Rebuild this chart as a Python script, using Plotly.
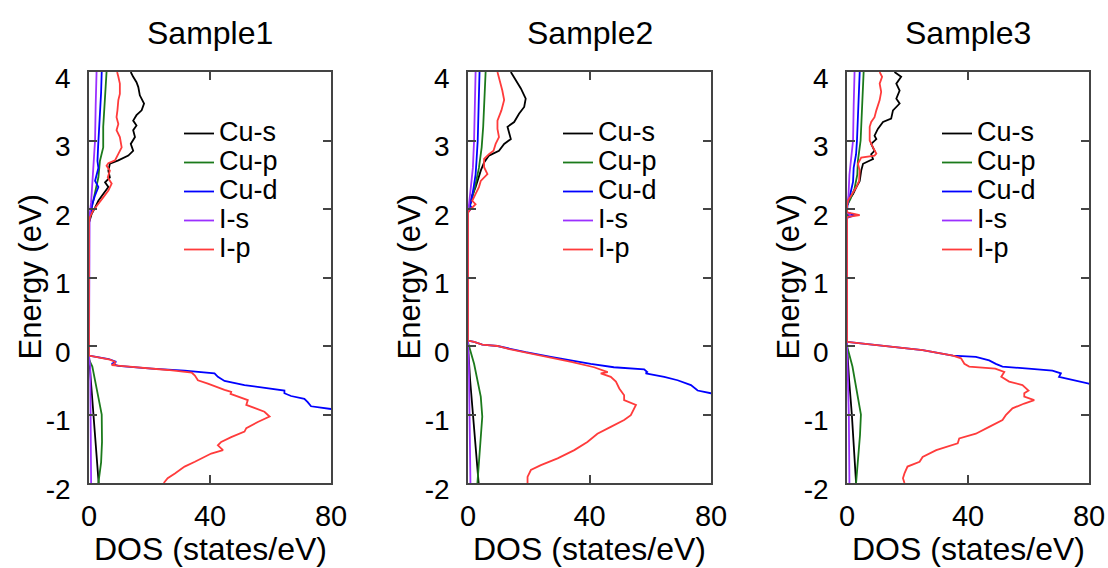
import plotly.graph_objects as go

# ---------------- data: (energy eV, DOS states/eV) ----------------
series_names = ["Cu-s", "Cu-p", "Cu-d", "I-s", "I-p"]
panel_titles = ["Sample1", "Sample2", "Sample3"]
x_ticks = [0, 40, 80]
y_ticks = [-2, -1, 0, 1, 2, 3, 4]
y_tick_labels = ["-2", "-1", "0", "1", "2", "3", "4"]

# Sample1
s1_cus = [(-2.0, 3.2), (-1.5, 2.3), (-1.0, 1.5), (-0.6, 0.8), (-0.3, 0.3), (-0.15, 0), (1.8, 0),
          (1.93, 0.9), (2.02, 2.0), (2.12, 3.1), (2.22, 4.7), (2.32, 6.4), (2.39, 5.3), (2.46, 6.9),
          (2.56, 6.4), (2.66, 6.9), (2.71, 9.7), (2.78, 13.0), (2.85, 14.6), (2.95, 13.8), (3.05, 15.2),
          (3.15, 14.6), (3.22, 15.7), (3.29, 14.6), (3.37, 15.7), (3.44, 17.4), (3.54, 18.2), (3.66, 16.8),
          (3.78, 16.3), (3.85, 15.7), (3.93, 14.6), (4.0, 13.8)]
s1_cup = [(-2.0, 3.1), (-1.7, 4.0), (-1.4, 4.3), (-1.0, 4.2), (-0.75, 3.1), (-0.5, 2.0), (-0.3, 1.1),
          (-0.2, 0), (1.85, 0), (2.02, 0.9), (2.22, 2.0), (2.46, 3.1), (2.7, 3.6), (2.9, 4.7), (3.2, 4.7),
          (3.49, 5.0), (3.78, 5.5), (4.0, 5.8)]
s1_cud = [(-2.0, 100), (-1.0, 88), (-0.92, 80), (-0.88, 73.4), (-0.82, 72.3), (-0.77, 71.2), (-0.73, 66.8),
          (-0.69, 64.6), (-0.65, 64.6), (-0.62, 60), (-0.57, 51.4), (-0.51, 44.8), (-0.45, 42.6),
          (-0.40, 41.5), (-0.36, 31.6), (-0.33, 20.7), (-0.29, 9.7), (-0.26, 7.5), (-0.23, 9.0),
          (-0.19, 6.5), (-0.14, 0), (1.8, 0), (1.9, 0.3), (2.07, 1.1), (2.2, 2.0), (2.32, 3.1), (2.41, 2.0),
          (2.6, 3.1), (2.7, 2.8), (2.9, 3.0), (3.1, 3.3), (3.4, 3.6), (3.7, 4.0), (4.0, 4.2)]
s1_is = [(-2.0, 0.7), (-1.0, 0.6), (-0.3, 0.4), (-0.15, 0), (1.8, 0), (1.9, 0.2), (2.1, 0.7), (2.4, 1.2),
         (2.7, 1.5), (3.0, 2.0), (3.5, 2.2), (4.0, 2.5)]
s1_ip = [(-2.0, 24.7), (-1.93, 26), (-1.86, 28.4), (-1.76, 31.6), (-1.69, 35), (-1.57, 40.4), (-1.52, 44.3),
         (-1.45, 42.6), (-1.40, 43.7), (-1.33, 47), (-1.25, 51.4), (-1.20, 52), (-1.11, 55.8), (-1.03, 59.7),
         (-0.96, 58), (-0.90, 54.7), (-0.86, 52), (-0.79, 52.5), (-0.74, 49), (-0.70, 46.8), (-0.67, 47),
         (-0.64, 44.8), (-0.55, 39.3), (-0.50, 36), (-0.43, 35), (-0.39, 34), (-0.35, 26), (-0.31, 15),
         (-0.28, 7.5), (-0.25, 8.6), (-0.23, 8.6), (-0.20, 6.9), (-0.16, 3), (-0.14, 0), (1.8, 0),
         (1.88, 0.3), (1.98, 1.4), (2.07, 3.1), (2.17, 4.7), (2.27, 6.4), (2.37, 7.5), (2.46, 6.2),
         (2.56, 6.9), (2.63, 5.8), (2.67, 6.4), (2.71, 8.6), (2.80, 9.7), (2.90, 10.8), (3.05, 10.2),
         (3.15, 9.1), (3.24, 9.7), (3.34, 9.1), (3.44, 9.4), (3.59, 9.7), (3.68, 10.2), (3.83, 10.2),
         (3.93, 9.7), (4.0, 9.3)]

# Sample2
s2_cus = [(-2.0, 3.5), (-1.5, 2.5), (-1.0, 1.6), (-0.5, 0.7), (0.0, 0), (1.95, 0), (2.05, 0.5), (2.2, 1.4),
          (2.32, 2.5), (2.41, 3.1), (2.56, 4.2), (2.68, 5.3), (2.78, 6.9), (2.85, 10.2), (2.95, 11.9),
          (3.02, 14.1), (3.1, 13.5), (3.2, 13.0), (3.27, 15.2), (3.39, 16.8), (3.49, 18.5), (3.61, 19.0),
          (3.76, 17.4), (3.88, 15.7), (4.0, 14.1)]
s2_cup = [(-2.0, 3.1), (-1.47, 4.0), (-1.03, 4.7), (-0.74, 4.2), (-0.26, 2.0), (0.05, 0), (1.95, 0),
          (2.1, 1.0), (2.3, 2.2), (2.6, 3.6), (2.9, 4.5), (3.2, 5.0), (3.6, 5.3), (4.0, 5.8)]
s2_cud = [(-2.0, 100), (-1.0, 90), (-0.69, 80), (-0.65, 75.6), (-0.57, 73.4), (-0.50, 69), (-0.45, 64.6),
          (-0.40, 58.5), (-0.38, 59), (-0.34, 58), (-0.31, 48), (-0.26, 40.4), (-0.16, 27.3), (-0.09, 19),
          (0.0, 9.7), (0.02, 4.7), (0.06, 2), (0.08, 0), (1.95, 0), (2.02, 1.2), (2.06, 0.6), (2.1, 1.0),
          (2.3, 1.8), (2.5, 2.5), (2.7, 2.8), (3.0, 3.2), (3.5, 3.5), (4.0, 3.8)]
s2_is = [(-2.0, 0.8), (-1.0, 0.6), (-0.3, 0.3), (0.05, 0), (1.95, 0), (2.05, 0.3), (2.3, 1.0), (2.6, 1.6),
         (3.0, 2.0), (3.5, 2.3), (4.0, 2.5)]
s2_ip = [(-2.0, 19.6), (-1.91, 19.6), (-1.81, 20.7), (-1.74, 24), (-1.64, 29.5), (-1.52, 35), (-1.40, 39.3),
         (-1.28, 42.6), (-1.18, 47), (-1.08, 51.4), (-1.01, 53.6), (-0.91, 54.7), (-0.86, 55.3),
         (-0.79, 51.4), (-0.72, 51.4), (-0.62, 49.8), (-0.52, 48.7), (-0.45, 47), (-0.40, 43.7),
         (-0.38, 46), (-0.31, 41.5), (-0.23, 34), (-0.16, 26), (-0.09, 18.5), (-0.04, 13), (0.0, 9.7),
         (0.02, 4.7), (0.06, 2), (0.08, 0), (1.95, 0), (2.0, 0.9), (2.07, 2.5), (2.12, 1.4), (2.22, 2.5),
         (2.32, 3.6), (2.41, 4.2), (2.51, 6.4), (2.61, 5.3), (2.73, 5.3), (2.80, 6.9), (2.85, 8.4),
         (2.95, 9.1), (3.05, 10.2), (3.17, 9.7), (3.29, 9.7), (3.44, 11), (3.59, 11.9), (3.73, 11.3),
         (3.88, 10.5), (4.0, 9.7)]

# Sample3
s3_cus = [(-2.0, 3.0), (-1.5, 2.4), (-1.0, 1.6), (-0.5, 0.7), (0.0, 0), (1.87, 0), (1.91, 0.6), (1.95, 0),
          (2.05, 0), (2.15, 0.9), (2.22, 2.0), (2.32, 3.1), (2.41, 4.2), (2.56, 4.7), (2.66, 5.3),
          (2.73, 8.6), (2.80, 8.0), (2.85, 9.1), (2.95, 8.0), (3.02, 9.7), (3.07, 9.1), (3.17, 10.2),
          (3.27, 11.9), (3.32, 14.6), (3.44, 15.2), (3.54, 17.4), (3.61, 16.3), (3.73, 17.4), (3.83, 16.3),
          (3.93, 17.9), (4.0, 15.7)]
s3_cup = [(-2.0, 3.0), (-1.6, 3.8), (-1.3, 4.3), (-1.0, 4.6), (-0.7, 3.5), (-0.3, 1.8), (0.0, 0), (2.05, 0),
          (2.15, 1.2), (2.3, 2.5), (2.5, 3.4), (2.7, 3.6), (3.0, 4.5), (3.5, 5.0), (4.0, 5.5)]
s3_cud = [(-2.0, 100), (-1.0, 90), (-0.55, 80), (-0.50, 74.5), (-0.45, 70.1), (-0.40, 70.7), (-0.36, 67.9),
          (-0.33, 60), (-0.30, 51.4), (-0.26, 49.2), (-0.21, 47), (-0.16, 42.6), (-0.14, 35), (-0.06, 25),
          (-0.01, 15), (0.03, 5.3), (0.06, 0), (1.87, 0), (1.91, 2.5), (1.95, 0), (2.08, 0.2), (2.2, 1.0),
          (2.4, 2.0), (2.6, 2.2), (2.8, 3.0), (3.0, 3.3), (3.5, 3.8), (4.0, 4.2)]
s3_is = [(-2.0, 0.8), (-1.0, 0.6), (0.0, 0), (1.87, 0), (1.91, 1.0), (1.95, 0), (2.05, 0), (2.2, 0.5),
         (2.5, 0.8), (2.7, 1.3), (3.0, 2.0), (3.5, 2.2), (4.0, 2.5)]
s3_ip = [(-2.0, 19), (-1.93, 18.5), (-1.86, 19), (-1.76, 20), (-1.69, 24), (-1.62, 25), (-1.52, 29.5),
         (-1.42, 36.6), (-1.35, 37.1), (-1.28, 42.6), (-1.18, 47), (-1.08, 51.4), (-1.01, 52.5),
         (-0.96, 53.6), (-0.91, 54.7), (-0.84, 58.6), (-0.79, 61.9), (-0.74, 58.6), (-0.69, 58.6),
         (-0.65, 60), (-0.57, 58), (-0.52, 53.6), (-0.45, 51), (-0.38, 52), (-0.33, 49), (-0.30, 40.4),
         (-0.26, 38.8), (-0.18, 37.7), (-0.14, 35), (-0.06, 25), (-0.01, 15), (0.03, 5.3), (0.06, 0),
         (1.88, 0), (1.91, 4.2), (1.95, 0), (2.05, 0), (2.12, 0.3), (2.2, 1.4), (2.32, 3.1), (2.41, 4.0),
         (2.56, 4.2), (2.66, 3.6), (2.75, 4.7), (2.78, 9.1), (2.81, 9.7), (2.9, 8.6), (3.0, 7.5),
         (3.1, 7.5), (3.2, 7.5), (3.27, 8.0), (3.34, 9.1), (3.44, 9.7), (3.59, 10.8), (3.71, 11.3),
         (3.83, 10.8), (3.93, 11.6), (4.0, 10.8)]

panels = [
    [s1_cus, s1_cup, s1_cud, s1_is, s1_ip],
    [s2_cus, s2_cup, s2_cud, s2_is, s2_ip],
    [s3_cus, s3_cup, s3_cud, s3_is, s3_ip],
]

# ---------------- styling ----------------
colors = ["#000000", "#1b7a1b", "#0000ff", "#9b30ff", "#ff3b3b"]
FONT = "Liberation Sans, Arial, sans-serif"
AX = "#444444"
W, H = 1108, 568
x_domains = [[89 / W, 331 / W], [468 / W, 711 / W], [847 / W, 1089 / W]]
y_domain = [1 - 483 / H, 1 - 72 / H]
legend_left = [179, 558, 937]
legend_top = 114

fig = go.Figure()
for p, series in enumerate(panels):
    sfx = "" if p == 0 else str(p + 1)
    lg = "legend" if p == 0 else "legend" + str(p + 1)
    for name, pts, col in zip(series_names, series, colors):
        e = [v[0] for v in pts]
        d = [v[1] for v in pts]
        fig.add_trace(go.Scatter(
            x=d, y=e, mode="lines", name='<span style="font-size:27px">' + name + "</span>",
            line=dict(color=col, width=1.8), xaxis="x" + sfx, yaxis="y" + sfx,
            legend=lg, showlegend=True, hoverinfo="skip"))

layout = dict(
    width=W, height=H, margin=dict(l=0, r=0, t=0, b=0, pad=0, autoexpand=False),
    paper_bgcolor="white", plot_bgcolor="white",
    font=dict(family=FONT, size=26, color="#000000"),
)
annotations = []
for p in range(3):
    sfx = "" if p == 0 else str(p + 1)
    layout["xaxis" + sfx] = dict(
        domain=x_domains[p], range=[0, 80], anchor="y" + sfx, tickvals=x_ticks,
        ticks="inside", ticklen=8, tickwidth=1.5, tickcolor=AX, showline=True, linecolor=AX,
        linewidth=1.5, mirror="ticks", showgrid=False, zeroline=False, automargin=False,
        tickfont=dict(size=29), ticklabelstandoff=6)
    layout["yaxis" + sfx] = dict(
        domain=y_domain, range=[-2, 4], anchor="x" + sfx, tickvals=y_ticks, ticktext=y_tick_labels,
        ticks="inside", ticklen=8, tickwidth=1.5, tickcolor=AX, showline=True, linecolor=AX,
        linewidth=1.5, mirror="ticks", showgrid=False, zeroline=False, automargin=False,
        tickfont=dict(size=28), ticklabelstandoff=11, ticklabelshift=6)
    lg = "legend" if p == 0 else "legend" + str(p + 1)
    layout[lg] = dict(
        x=legend_left[p] / W, y=1 - legend_top / H, xanchor="left", yanchor="top",
        bgcolor="rgba(0,0,0,0)", borderwidth=0, font=dict(size=20), itemwidth=30,
        tracegroupgap=0)
    cx = (x_domains[p][0] + x_domains[p][1]) / 2
    annotations.append(dict(text=panel_titles[p], x=cx, y=1 - 33 / H, xref="paper", yref="paper",
                            showarrow=False, font=dict(size=32), xanchor="center", yanchor="middle"))
    annotations.append(dict(text="DOS (states/eV)", x=cx, y=1 - 549 / H, xref="paper", yref="paper",
                            showarrow=False, font=dict(size=32), xanchor="center", yanchor="middle"))
    annotations.append(dict(text="Energy (eV)", x=(x_domains[p][0] * W - 59) / W,
                            y=(y_domain[0] + y_domain[1]) / 2, xref="paper", yref="paper",
                            showarrow=False, font=dict(size=31), textangle=-90,
                            xanchor="center", yanchor="middle"))
layout["annotations"] = annotations
fig.update_layout(**layout)
fig.write_html("out.html")
